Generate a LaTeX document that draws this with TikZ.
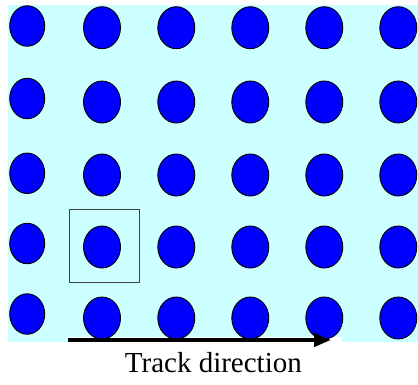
\documentclass[tikz,border=0pt]{standalone}
\usepackage{fontspec}
\setmainfont{Liberation Serif}
\usetikzlibrary{shapes.geometric,arrows.meta}
\definecolor{bgcyan}{RGB}{204,255,255}
\definecolor{dotblue}{RGB}{0,0,255}
\definecolor{boxgray}{RGB}{64,64,64}
\begin{document}
\begin{tikzpicture}[x=1pt,y=-1pt,
  dot/.style={ellipse,draw=black,line width=0.9pt,fill=dotblue,minimum width=37pt,minimum height=42pt,inner sep=0pt},
  smalldot/.style={dot,minimum width=35pt,minimum height=40.5pt},
  cellbox/.style={draw=boxgray,line width=0.9pt,minimum width=70pt,minimum height=73pt,inner sep=0pt},
  trackarrow/.style={line width=4pt,-{Triangle[length=17pt,width=13pt]}},
  label/.style={font=\fontsize{29}{33}\selectfont,anchor=base,inner sep=0pt}]
\useasboundingbox (0,0) rectangle (418,384);
\fill[bgcyan] (8,5) rectangle (418,342);
\fill[white] (68,337) rectangle (342,384);
% column 1 (slightly higher, slightly smaller)
\foreach \r/\y in {1/26,2/98.5,3/173.3,4/243.5,5/314}{
  \node[smalldot] (d\r-1) at (27.2,\y) {};
}
% columns 2..6
\foreach \r/\y in {1/27.7,2/102,3/175,4/247,5/318}{
  \foreach \c/\x in {2/102,3/176.3,4/250.3,5/324.3,6/398.3}{
    \node[dot] (d\r-\c) at (\x,\y) {};
  }
}
\node[cellbox] (box) at (104.3,246) {};
\coordinate (tstart) at (68,340);
\coordinate (tend) at (331,340);
\draw[trackarrow] (tstart) -- (tend);
\node[label] (track) at (213.4,372.7) {Track direction};
\end{tikzpicture}
\end{document}
